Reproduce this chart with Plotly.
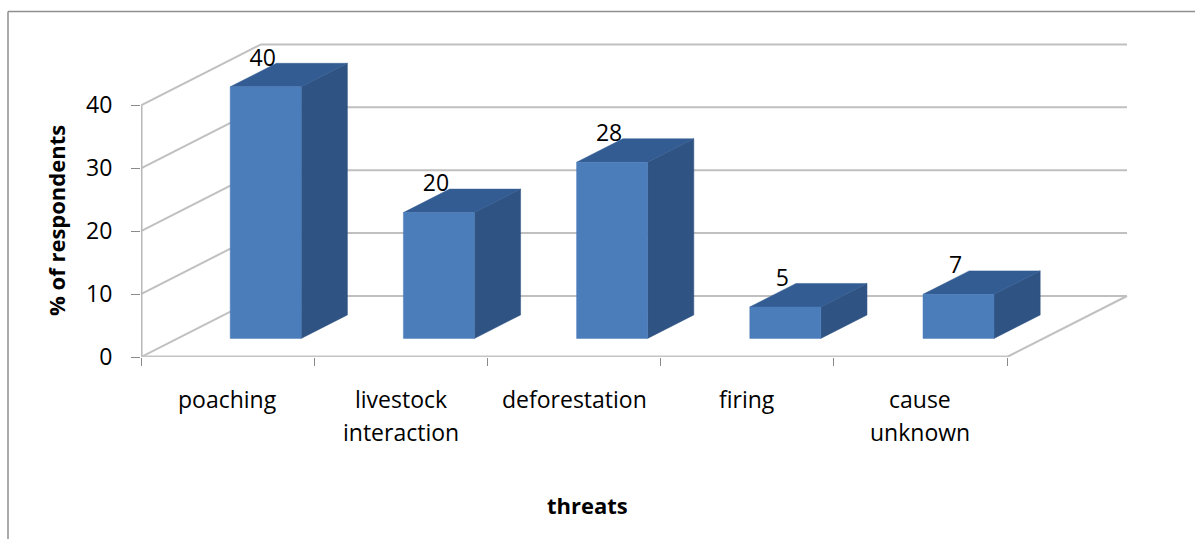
import plotly.graph_objects as go

# Survey results: perceived threats
categories = ["poaching", "livestock<br>interaction", "deforestation", "firing", "cause<br>unknown"]
respondents = [40, 20, 28, 5, 7]
axis_ticks = [0, 10, 20, 30, 40]
value_title = "% of respondents"
category_title = "threats"

W, H = 1195, 539
PLOT_L, PLOT_R, PLOT_T, PLOT_B = 141, 1130, 40, 357
PX_PER_CAT = 173.2
PX_PER_UNIT = 6.29

# Oblique projection: one full unit of chart depth in data coordinates
DEPTH_X = 120 / PX_PER_CAT
DEPTH_Y = 61 / PX_PER_UNIT

# Bar box: width in categories, depth interval along the floor
BAR_W = 71 / PX_PER_CAT
D_FRONT, D_BACK = 0.305, 0.69
X_SHIFT = 1.5 / PX_PER_CAT

FONT = "Open Sans"
FONT_SIZE = 23
TITLE_SIZE = 22
GRID = "#c0c0c0"
FRONT, SIDE, TOP = "#4b7dba", "#2f5383", "#335c92"


def to_px_x(px):
    return (px - PLOT_L) / (PLOT_R - PLOT_L)


def to_px_y(py):
    return 1 - (py - PLOT_T) / (PLOT_B - PLOT_T)


def proj(x, y, d):
    return x + DEPTH_X * d, y + DEPTH_Y * d


fig = go.Figure()
n = len(categories)


def line(xs, ys, color=GRID, width=2):
    fig.add_trace(go.Scatter(x=xs, y=ys, mode="lines", line=dict(color=color, width=width),
                             hoverinfo="skip", showlegend=False, cliponaxis=False))


def face(corners, color):
    xs = [c[0] for c in corners] + [corners[0][0]]
    ys = [c[1] for c in corners] + [corners[0][1]]
    fig.add_trace(go.Scatter(x=xs, y=ys, mode="lines", fill="toself", fillcolor=color,
                             line=dict(color=color, width=0.5), hoverinfo="skip",
                             showlegend=False, cliponaxis=False))


# Side wall and back wall gridlines
for v in axis_ticks:
    bx, by = proj(0, v, 1)
    line([0, bx, bx + n], [v, by, by])

# Floor edge on the right, then the two front axis lines
ex, ey = proj(n, 0, 1)
line([n, ex], [0, ey])
line([0, 0], [0, axis_ticks[-1]], color="#b8b8b8", width=3)
line([0, n], [0, 0], color="#c4c4c4", width=3)

# Bars as three visible faces of a box
for i, v in enumerate(respondents):
    left = i + 0.5 + X_SHIFT - BAR_W / 2
    right = left + BAR_W
    face([proj(right, 0, D_FRONT), proj(right, 0, D_BACK), proj(right, v, D_BACK), proj(right, v, D_FRONT)], SIDE)
    face([proj(left, v, D_FRONT), proj(right, v, D_FRONT), proj(right, v, D_BACK), proj(left, v, D_BACK)], TOP)
    face([proj(left, 0, D_FRONT), proj(right, 0, D_FRONT), proj(right, v, D_FRONT), proj(left, v, D_FRONT)], FRONT)

# Value labels sit just above each bar's front top edge
label_x = [proj(i + 0.5 + X_SHIFT, 0, D_FRONT)[0] - 3 / PX_PER_CAT for i in range(n)]
label_y = [v + DEPTH_Y * D_FRONT + 27 / PX_PER_UNIT for v in respondents]
fig.add_trace(go.Scatter(x=label_x, y=label_y, mode="text", text=[str(v) for v in respondents],
                         textposition="middle center", textfont=dict(family=FONT, size=FONT_SIZE, color="black"),
                         hoverinfo="skip", showlegend=False, cliponaxis=False))

annotations = []
# Category names, one annotation per text line for the wide line spacing
for i, cat in enumerate(categories):
    for j, part in enumerate(cat.split("<br>")):
        annotations.append(dict(x=i + 0.5, xref="x", y=to_px_y(399 + j * 33), yref="paper", text=part,
                                showarrow=False, xanchor="center", yanchor="middle",
                                font=dict(family=FONT, size=FONT_SIZE, color="black")))
annotations.append(dict(x=to_px_x(56), xref="paper", y=to_px_y(221), yref="paper", text=f"<b>{value_title}</b>",
                        textangle=-90, showarrow=False, xanchor="center", yanchor="middle",
                        font=dict(family=FONT, size=TITLE_SIZE, color="black")))
annotations.append(dict(x=to_px_x(587), xref="paper", y=to_px_y(505), yref="paper", text=f"<b>{category_title}</b>",
                        showarrow=False, xanchor="center", yanchor="middle",
                        font=dict(family=FONT, size=TITLE_SIZE, color="black")))

# Chart frame: left and top edges only
frame = dict(type="line", xref="paper", yref="paper", line=dict(color="#8f8f8f", width=1.5))
shapes = [
    dict(frame, x0=to_px_x(8), x1=to_px_x(8), y0=to_px_y(11.5), y1=to_px_y(539)),
    dict(frame, x0=to_px_x(8), x1=to_px_x(1195), y0=to_px_y(11.5), y1=to_px_y(11.5)),
]

fig.update_layout(
    width=W, height=H, autosize=False,
    margin=dict(l=PLOT_L, r=W - PLOT_R, t=PLOT_T, b=H - PLOT_B, pad=0),
    paper_bgcolor="white", plot_bgcolor="white", showlegend=False,
    annotations=annotations, shapes=shapes,
    xaxis=dict(range=[0, (PLOT_R - PLOT_L) / PX_PER_CAT], showgrid=False, zeroline=False, showline=False,
               showticklabels=False, ticks="outside", tickvals=list(range(n + 1)), ticklen=8,
               tickcolor="#8a8a8a", tickwidth=1),
    yaxis=dict(range=[0, (PLOT_B - PLOT_T) / PX_PER_UNIT], showgrid=False, zeroline=False, showline=False,
               tickvals=axis_ticks, ticks="outside", ticklen=9, tickcolor="#8a8a8a", tickwidth=1,
               ticklabelstandoff=14, tickfont=dict(family=FONT, size=FONT_SIZE, color="black")),
)

fig.write_html("out.html")
